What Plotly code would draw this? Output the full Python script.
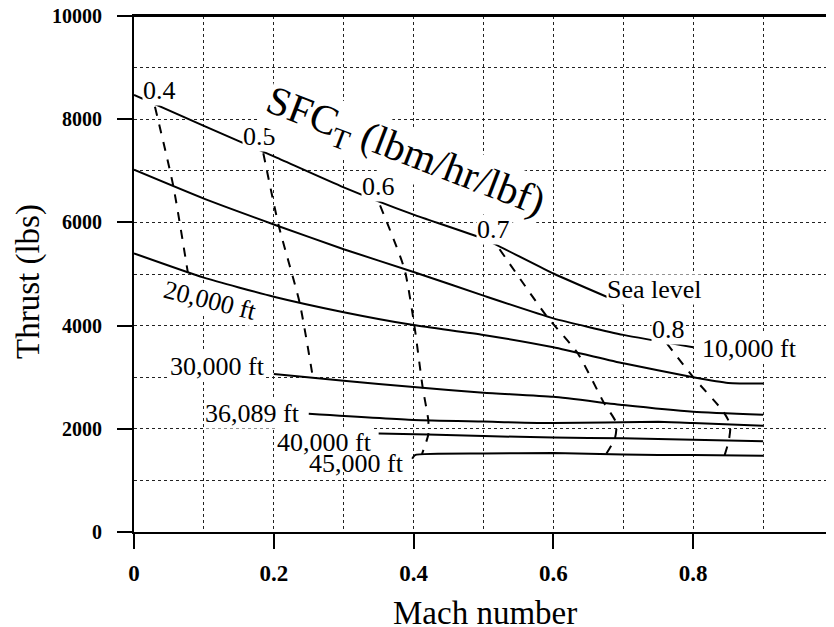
import plotly.graph_objects as go

# altitude lines: Mach number vs thrust (lbs)
mach_sl = [0, 0.1, 0.2, 0.3, 0.4, 0.5, 0.6, 0.7]
thrust_sl = [8470, 7870, 7280, 6680, 6150, 5680, 5010, 4420]

mach_10k = [0, 0.1, 0.2, 0.3, 0.4, 0.5, 0.6, 0.7, 0.8]
thrust_10k = [7020, 6460, 5960, 5480, 5040, 4580, 4140, 3820, 3580]

mach_20k = [0, 0.1, 0.2, 0.3, 0.4, 0.5, 0.6, 0.7, 0.8, 0.85, 0.9]
thrust_20k = [5400, 4930, 4560, 4260, 4010, 3820, 3580, 3270, 3000, 2890, 2880]

mach_30k = [0.2, 0.3, 0.4, 0.5, 0.6, 0.7, 0.8, 0.9]
thrust_30k = [3060, 2930, 2810, 2700, 2620, 2460, 2330, 2270]

mach_36k = [0.25, 0.4, 0.5, 0.6, 0.75, 0.8, 0.9]
thrust_36k = [2290, 2170, 2140, 2110, 2135, 2110, 2060]

mach_40k = [0.35, 0.42, 0.5, 0.6, 0.7, 0.8, 0.9]
thrust_40k = [1910, 1890, 1860, 1830, 1815, 1790, 1760]

mach_45k = [0.398, 0.402, 0.5, 0.6, 0.7, 0.8, 0.9]
thrust_45k = [1420, 1490, 1520, 1530, 1500, 1490, 1480]

# constant SFC_T lines (dashed)
mach_sfc04 = [0.030, 0.056, 0.077]
thrust_sfc04 = [8240, 6720, 5030]
mach_sfc05 = [0.185, 0.207, 0.237, 0.256]
thrust_sfc05 = [7340, 5940, 4440, 2990]
mach_sfc06 = [0.352, 0.387, 0.401, 0.413, 0.421, 0.421, 0.412]
thrust_sfc06 = [6330, 5090, 4010, 2800, 2170, 1890, 1510]
mach_sfc07 = [0.523, 0.59, 0.635, 0.672, 0.690, 0.688, 0.675]
thrust_sfc07 = [5480, 4190, 3460, 2510, 2110, 1815, 1500]
mach_sfc08 = [0.762, 0.800, 0.843, 0.853, 0.851, 0.845]
thrust_sfc08 = [3660, 3000, 2335, 2075, 1775, 1490]

x_ticks = [0, 0.2, 0.4, 0.6, 0.8, 1]
x_tick_text = ["0", "0.2", "0.4", "0.6", "0.8", "1"]
y_ticks = [0, 2000, 4000, 6000, 8000, 10000]
y_tick_text = ["0", "2000", "4000", "6000", "8000", "10000"]

serif = "Liberation Serif, Times New Roman, serif"

fig = go.Figure()

solid = [(mach_sl, thrust_sl), (mach_10k, thrust_10k), (mach_20k, thrust_20k),
         (mach_30k, thrust_30k), (mach_36k, thrust_36k), (mach_40k, thrust_40k),
         (mach_45k, thrust_45k)]
for m, t in solid:
    fig.add_trace(go.Scatter(x=m, y=t, mode="lines",
                             line=dict(color="black", width=2, shape="spline", smoothing=0.5)))

dashed = [(mach_sfc04, thrust_sfc04), (mach_sfc05, thrust_sfc05), (mach_sfc06, thrust_sfc06),
          (mach_sfc07, thrust_sfc07), (mach_sfc08, thrust_sfc08)]
for m, t in dashed:
    fig.add_trace(go.Scatter(x=m, y=t, mode="lines",
                             line=dict(color="black", width=2, dash="dash", shape="spline", smoothing=0.6)))

# labels (text, mach, thrust, angle, white box)
labels = [
    ("0.4", 0.036, 8547, 0, True),
    ("0.5", 0.179, 7674, 0, True),
    ("0.6", 0.350, 6705, 0, True),
    ("0.7", 0.515, 5853, 0, True),
    ("0.8", 0.764, 3915, 0, True),
    ("Sea level", 0.745, 4709, 0, True),
    ("10,000 ft", 0.881, 3547, 0, True),
    ("20,000 ft", 0.109, 4496, 14, True),
    ("30,000 ft", 0.119, 3198, 0, True),
    ("36,089 ft", 0.169, 2287, 0, True),
    ("40,000 ft", 0.272, 1744, 0, True),
    ("45,000 ft", 0.319, 1318, 0, False),
]
for txt, m, t, a, box in labels:
    fig.add_annotation(x=m, y=t, text=txt, showarrow=False, textangle=a,
                       xanchor="center", yanchor="middle",
                       font=dict(family=serif, size=26, color="black"),
                       bgcolor="white" if box else "rgba(0,0,0,0)", borderpad=0)

fig.add_annotation(x=0.388, y=7345, text="SFC<sub>T</sub> (lbm/hr/lbf)", showarrow=False,
                   textangle=21, xanchor="center", yanchor="middle",
                   font=dict(family=serif, size=41, color="black"),
                   bgcolor="white", borderpad=0)

fig.add_annotation(x=0.502, y=-0.157, xref="paper", yref="paper", text="Mach number",
                   xanchor="center", yanchor="middle",
                   showarrow=False, font=dict(family=serif, size=33, color="black"))
fig.add_annotation(x=-0.152, y=0.486, xref="paper", yref="paper", text="Thrust (lbs)",
                   xanchor="center", yanchor="middle",
                   showarrow=False, textangle=-90, font=dict(family=serif, size=33, color="black"))

# top frame line and the dotted line at Mach 1
fig.add_shape(type="line", x0=0, x1=1, y0=10000, y1=10000, line=dict(color="black", width=2))
fig.add_shape(type="line", x0=1, x1=1, y0=0, y1=10000, line=dict(color="#222", width=1, dash="dot"))

grid = dict(showgrid=True, gridcolor="#222", gridwidth=1, griddash="dot")
fig.update_xaxes(range=[0, 1], tickvals=x_ticks, ticktext=x_tick_text, ticks="outside", ticklen=15,
                 tickwidth=2, tickcolor="black", showline=True, linecolor="black", linewidth=2,
                 mirror=True, zeroline=False, ticklabelstandoff=4, automargin=False,
                 ticklabeloverflow="allow",
                 tickfont=dict(family=serif, size=23, color="black", weight="bold"),
                 minor=dict(dtick=0.1, ticks="", **grid), **grid)
fig.update_yaxes(range=[0, 10000], tickvals=y_ticks, ticktext=y_tick_text, ticks="outside", ticklen=15,
                 tickwidth=2, tickcolor="black", showline=True, linecolor="black", linewidth=2,
                 zeroline=False, ticklabelstandoff=11, automargin=False,
                 ticklabeloverflow="allow",
                 tickfont=dict(family=serif, size=20, color="black", weight="bold"),
                 minor=dict(dtick=1000, ticks="", **grid), **grid)

# page body has an 8px default margin, so the figure is drawn 8px in
fig.update_layout(width=826, height=619, showlegend=False,
                  margin=dict(l=126, r=1, t=8, b=95),
                  plot_bgcolor="white", paper_bgcolor="white")

fig.write_html("out.html")
